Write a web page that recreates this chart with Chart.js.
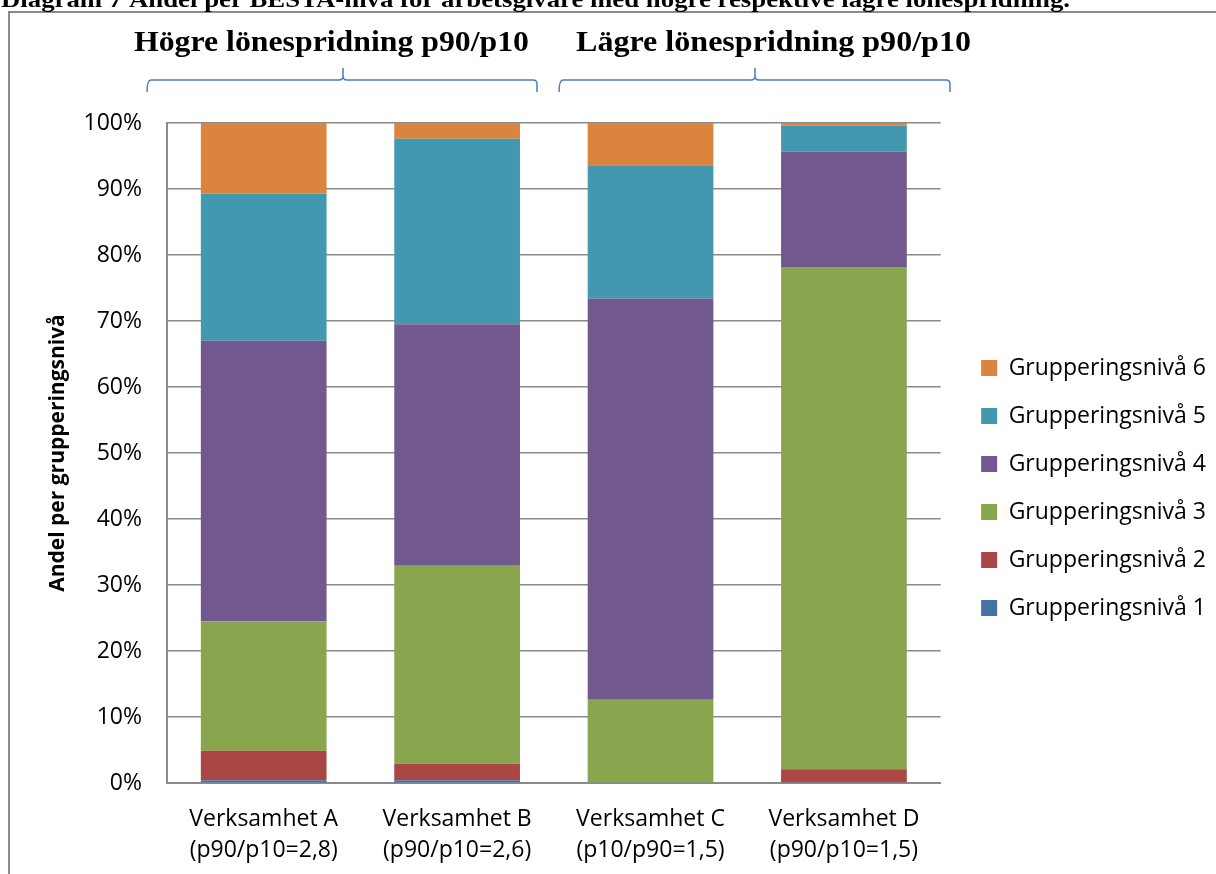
<!DOCTYPE html>
<html>
<head>
<meta charset="utf-8">
<script src="https://cdn.jsdelivr.net/npm/chart.js@4.4.1/dist/chart.umd.min.js"></script>
<style>
    html, body { margin: 0; padding: 0; background: #fff; }
    #wrap { width: 1216px; height: 874px; }
</style>
</head>
<body>
<div id="wrap"><canvas id="lonChart" width="1216" height="874"></canvas></div>
<script>
// kategorier (två rader per etikett)
const categories = [
    ["Verksamhet A", "(p90/p10=2,8)"],
    ["Verksamhet B", "(p90/p10=2,6)"],
    ["Verksamhet C", "(p10/p90=1,5)"],
    ["Verksamhet D", "(p90/p10=1,5)"]
];

// andel i procent per grupperingsnivå
const niva1 = [0.4, 0.4, 0, 0];
const niva2 = [4.5, 2.5, 0, 2.1];
const niva3 = [19.6, 30.0, 12.6, 76.1];
const niva4 = [42.5, 36.6, 60.8, 17.5];
const niva5 = [22.3, 28.1, 20.2, 3.9];
const niva6 = [10.7, 2.4, 6.4, 0.4];

const seriesNames = [
    "Grupperingsnivå 1", "Grupperingsnivå 2", "Grupperingsnivå 3",
    "Grupperingsnivå 4", "Grupperingsnivå 5", "Grupperingsnivå 6"
];
const seriesColors = ["#4572A7", "#AA4643", "#89A54E", "#71588F", "#4198AF", "#DB843D"];

const yTicks = [0, 10, 20, 30, 40, 50, 60, 70, 80, 90, 100];

const groupTitles = ["Högre lönespridning p90/p10", "Lägre lönespridning p90/p10"];
const headerText = "Diagram 7 Andel per BESTA-nivå för arbetsgivare med högre respektive lägre lönespridning.";

Chart.defaults.font.family = "'Open Sans', sans-serif";
Chart.defaults.color = "#000";

const gridColor = "#8a8a8a";

// text i serif, lätt utdragen i sidled som i förlagan
function stretchText(ctx, text, x, baseline, width) {
    const w = ctx.measureText(text).width;
    ctx.save();
    ctx.translate(x, baseline);
    ctx.scale(width / w, 1);
    ctx.fillText(text, 0, 0);
    ctx.restore();
}

function brace(ctx, x1, x2, xm) {
    const yTop = 68, yLine = 80, yBot = 92, r = 4;
    ctx.beginPath();
    ctx.moveTo(x1, yBot);
    ctx.quadraticCurveTo(x1, yLine, x1 + r, yLine);
    ctx.lineTo(xm - r, yLine);
    ctx.quadraticCurveTo(xm, yLine, xm, yLine - r);
    ctx.lineTo(xm, yTop);
    ctx.moveTo(xm, yLine - r);
    ctx.quadraticCurveTo(xm, yLine, xm + r, yLine);
    ctx.lineTo(x2 - r, yLine);
    ctx.quadraticCurveTo(x2, yLine, x2, yLine + r);
    ctx.lineTo(x2, yBot);
    ctx.stroke();
}

const decorPlugin = {
    id: "decor",
    beforeDraw(chart) {
        const ctx = chart.ctx;
        ctx.save();
        ctx.fillStyle = "#fff";
        ctx.fillRect(0, 0, chart.width, chart.height);

        // ram
        ctx.strokeStyle = gridColor;
        ctx.lineWidth = 2;
        ctx.beginPath();
        ctx.moveTo(9, chart.height + 5);
        ctx.lineTo(9, 12);
        ctx.lineTo(chart.width + 5, 12);
        ctx.stroke();

        // rubrik ovanför (avklippt)
        ctx.fillStyle = "#000";
        ctx.textBaseline = "alphabetic";
        ctx.font = "bold 24px 'Liberation Serif'";
        stretchText(ctx, headerText, 1, 7, 1069);

        ctx.font = "bold 29px 'Liberation Serif'";
        stretchText(ctx, groupTitles[0], 134, 51, 395);
        stretchText(ctx, groupTitles[1], 576, 51, 395);

        ctx.strokeStyle = "#4a7ebb";
        ctx.lineWidth = 1.5;
        brace(ctx, 147, 537, 343);
        brace(ctx, 559, 950, 755);
        ctx.restore();
    }
};

const datasets = [niva1, niva2, niva3, niva4, niva5, niva6].map((vals, i) => ({
    label: seriesNames[i],
    data: vals,
    backgroundColor: seriesColors[i],
    borderWidth: 0,
    barPercentage: 0.65,
    categoryPercentage: 1.0
}));

new Chart(document.getElementById("lonChart"), {
    type: "bar",
    data: { labels: categories, datasets: datasets },
    plugins: [decorPlugin],
    options: {
        responsive: false,
        animation: false,
        layout: { padding: { top: 123, left: 30, right: 0, bottom: 0 } },
        plugins: {
            tooltip: { enabled: false },
            legend: {
                position: "right",
                fullSize: false,
                reverse: true,
                title: { display: true, text: " ", font: { size: 10, lineHeight: 1 }, padding: { top: 60, bottom: 0 } },
                labels: { boxWidth: 16, boxHeight: 16, padding: 25, font: { size: 23 }, color: "#000" }
            }
        },
        scales: {
            x: {
                stacked: true,
                grid: { display: false, drawTicks: false },
                border: { display: true, color: gridColor, width: 2 },
                ticks: { padding: 21, font: { size: 23, lineHeight: 1.35 }, color: "#000", maxRotation: 0 },
                afterFit: s => { s.height = 91; }
            },
            y: {
                stacked: true,
                min: 0,
                max: 100,
                afterBuildTicks: s => { s.ticks = yTicks.map(v => ({ value: v })); },
                grid: { color: gridColor, lineWidth: 1.5, drawTicks: false },
                border: { display: true, color: gridColor, width: 2 },
                ticks: { padding: 25, font: { size: 23 }, color: "#000", callback: v => v + "%" },
                title: {
                    display: true,
                    text: "Andel per grupperingsnivå",
                    font: { size: 21, weight: "bold", lineHeight: 1.2 },
                    color: "#000",
                    padding: { top: 15, bottom: 0 }
                },
                afterFit: s => { s.width = 137; }
            },
            // osynlig axel som bara ger luft mellan diagramyta och förklaring
            yr: {
                position: "right",
                display: false,
                afterFit: s => { s.width = 15.5; }
            }
        }
    }
});
</script>
</body>
</html>
